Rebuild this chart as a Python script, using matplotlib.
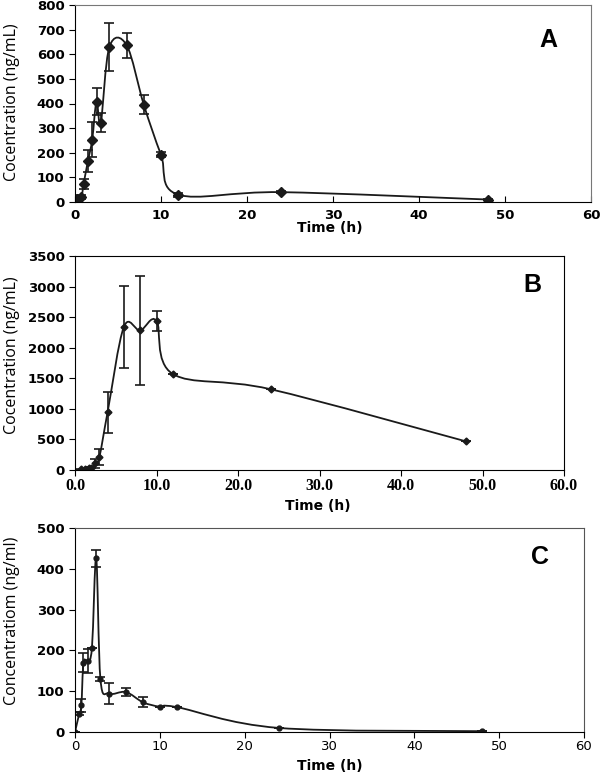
import matplotlib
matplotlib.use("Agg")
import matplotlib.pyplot as plt
from matplotlib.path import Path
from matplotlib.patches import PathPatch

# --- Panel A data ---
time_a = [0.25, 0.75, 1, 1.5, 2, 2.5, 3, 4, 6, 8, 10, 12, 24, 48]
conc_a = [11, 21, 73, 166, 253, 408, 322, 630, 637, 395, 192, 30, 40, 10]
err_a = [5, 7, 22, 44, 71, 54, 39, 97, 51, 38, 10, 8, 5, 3]

# --- Panel B data ---
time_b = [0.75, 1.25, 1.75, 2, 2.5, 3, 4, 6, 8, 10, 12, 24, 48]
conc_b = [11, 16, 27, 38, 109, 217, 946, 2342, 2283, 2440, 1571, 1321, 467]
err_b = [5, 5, 8, 10, 70, 130, 335, 670, 885, 165, 0, 0, 0]

# --- Panel C data ---
time_c = [0, 0.5, 0.75, 1, 1.5, 2, 2.5, 3, 4, 6, 8, 10, 12, 24, 48]
conc_c = [0, 45, 65, 170, 174, 207, 426, 129, 94, 98, 73, 62, 61, 10, 2]
err_c = [0, 3, 17, 24, 30, 0, 21, 5, 25, 10, 12, 0, 0, 0, 0]

LINE = '#1a1a1a'


def smooth_line(ax, x, y, lw):
    # Excel-like smoothed line (Catmull-Rom as cubic Bezier segments)
    n = len(x)
    verts = [(x[0], y[0])]
    codes = [Path.MOVETO]
    for i in range(n - 1):
        xp, yp = (x[i - 1], y[i - 1]) if i > 0 else (x[i], y[i])
        xn, yn = (x[i + 2], y[i + 2]) if i + 2 < n else (x[i + 1], y[i + 1])
        c1 = (x[i] + (x[i + 1] - xp) / 6, y[i] + (y[i + 1] - yp) / 6)
        c2 = (x[i + 1] - (xn - x[i]) / 6, y[i + 1] - (yn - y[i]) / 6)
        verts += [c1, c2, (x[i + 1], y[i + 1])]
        codes += [Path.CURVE4] * 3
    ax.add_patch(PathPatch(Path(verts, codes), fill=False, edgecolor=LINE, lw=lw))


fig = plt.figure(figsize=(6, 7.78), dpi=100)
W, H = 600, 778


def make_axes(l, t, r, b):
    return fig.add_axes([l / W, 1 - b / H, (r - l) / W, (b - t) / H])


# --- Panel A ---
ax = make_axes(75, 5, 591, 202)
smooth_line(ax, time_a, conc_a, 1.3)
ax.errorbar(time_a, conc_a, yerr=err_a, fmt='none', ecolor=LINE, elinewidth=1.2,
            capsize=3.5, capthick=1.2)
ax.plot(time_a, conc_a, 'D', color=LINE, ms=5.5)
ax.set_xlim(0, 60)
ax.set_ylim(0, 800)
ax.set_xticks(range(0, 61, 10))
ax.set_yticks(range(0, 801, 100))
ax.tick_params(axis='x', direction='in', length=4, pad=5)
ax.tick_params(axis='y', direction='out', length=4)
for lab in ax.get_xticklabels() + ax.get_yticklabels():
    lab.set_fontweight('bold')
    lab.set_fontsize(9.5)
for s in ['top', 'right']:
    ax.spines[s].set_color('#777777')
fig.text(548 / W, 1 - 40 / H, 'A', ha='center', va='center',
         fontsize=18, fontweight='bold', family='Liberation Sans')
fig.text(12 / W, 1 - 102 / H, 'Cocentration (ng/mL)', rotation=90, ha='center',
         va='center', fontsize=11.5, family='Open Sans')
fig.text(330 / W, 1 - 228 / H, 'Time (h)', ha='center', va='center', fontsize=10,
         fontweight='bold')

# --- Panel B ---
ax = make_axes(75, 256, 564, 470)
smooth_line(ax, time_b, conc_b, 1.3)
ax.errorbar(time_b, conc_b, yerr=err_b, fmt='none', ecolor=LINE, elinewidth=1.2,
            capsize=3.5, capthick=1.2)
ax.plot(time_b, conc_b, 'D', color=LINE, ms=3.5)
ax.set_xlim(0, 60)
ax.set_ylim(0, 3500)
ax.set_xticks(range(0, 61, 10))
ax.set_xticklabels([f'{v:.1f}' for v in range(0, 61, 10)])
ax.set_yticks(range(0, 3501, 500))
ax.tick_params(direction='out', length=4)
ax.tick_params(axis='x', pad=2)
for lab in ax.get_xticklabels():
    lab.set_fontweight('bold')
    lab.set_fontsize(11.5)
    lab.set_family('Liberation Serif')
for lab in ax.get_yticklabels():
    lab.set_fontweight('bold')
    lab.set_fontsize(9.5)
fig.text(532 / W, 1 - 285 / H, 'B', ha='center', va='center',
         fontsize=18, fontweight='bold', family='Liberation Sans')
fig.text(12 / W, 1 - 355 / H, 'Cocentration (ng/mL)', rotation=90, ha='center',
         va='center', fontsize=11.5, family='Open Sans')
fig.text(318 / W, 1 - 506 / H, 'Time (h)', ha='center', va='center', fontsize=10,
         fontweight='bold')

# --- Panel C ---
ax = make_axes(75, 528, 584, 732)
smooth_line(ax, time_c, conc_c, 1.3)
ax.errorbar(time_c, conc_c, yerr=err_c, fmt='none', ecolor=LINE, elinewidth=1.2,
            capsize=3.5, capthick=1.2)
ax.plot(time_c, conc_c, 'o', color=LINE, ms=3.5)
ax.set_xlim(0, 60)
ax.set_ylim(0, 500)
ax.set_xticks(range(0, 61, 10))
ax.set_yticks(range(0, 501, 100))
ax.tick_params(direction='out', length=4)
ax.tick_params(axis='x', pad=2)
for lab in ax.get_xticklabels():
    lab.set_fontsize(9.5)
for lab in ax.get_yticklabels():
    lab.set_fontweight('bold')
    lab.set_fontsize(9.5)
for s in ['top', 'right']:
    ax.spines[s].set_color('#555555')
fig.text(540 / W, 1 - 557 / H, 'C', ha='center', va='center',
         fontsize=18, fontweight='bold', family='Liberation Sans')
fig.text(12 / W, 1 - 621 / H, 'Concentratiom (ng/ml)', rotation=90, ha='center',
         va='center', fontsize=11.5, family='Open Sans')
fig.text(330 / W, 1 - 766 / H, 'Time (h)', ha='center', va='center', fontsize=10,
         fontweight='bold')

fig.savefig('out.png', dpi=100)
